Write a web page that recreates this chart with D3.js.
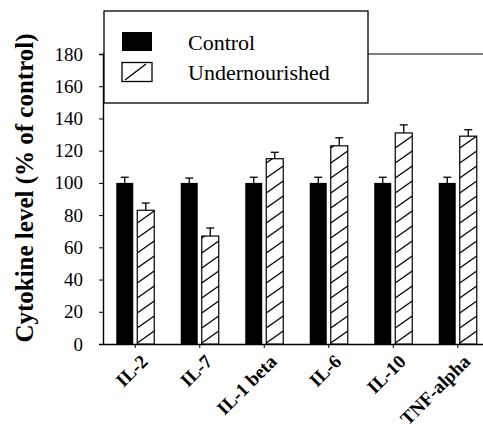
<!DOCTYPE html>
<html>
<head>
<meta charset="utf-8">
<script src="https://cdn.jsdelivr.net/npm/d3@7"></script>
</head>
<body style="margin:0">
<div id="chart"></div>
<script>
// values (% of control)
var categories = ["IL-2", "IL-7", "IL-1 beta", "IL-6", "IL-10", "TNF-alpha"];
var controlValues = [100, 100, 100, 100, 100, 100];
var controlErrors = [3.5, 3, 3.5, 3.5, 3.5, 3.5];
var underValues = [83, 67, 115, 123, 131, 129];
var underErrors = [4.5, 5, 4, 5, 5, 4];
var yTicks = [0, 20, 40, 60, 80, 100, 120, 140, 160, 180];
var seriesNames = ["Control", "Undernourished"];

var width = 483, height = 442;
var serif = "Liberation Serif";

var svg = d3.select("#chart").append("svg")
    .attr("width", width)
    .attr("height", height);

var x = d3.scaleBand().domain(categories).range([103, 490]);
var y = d3.scaleLinear().domain([0, 180]).range([344, 54]);
var barW = 17, gap = 2;

//frame: top line and axes
svg.append("line")
    .attr("x1", x.range()[0]).attr("x2", width)
    .attr("y1", y(180)).attr("y2", y(180))
    .attr("stroke", "#000").attr("stroke-width", 1.2);

var yAxis = svg.append("g")
    .attr("transform", "translate(" + x.range()[0] + ",0)")
    .call(d3.axisLeft(y).tickValues(yTicks).tickSize(4).tickPadding(16));
yAxis.select(".domain").attr("stroke-width", 1.4);
yAxis.selectAll("text")
    .attr("fill", "#000")
    .attr("font-family", serif)
    .attr("font-size", 19);

var xAxis = svg.append("g")
    .attr("transform", "translate(0," + y(0) + ")")
    .call(d3.axisBottom(x).tickSize(4).tickSizeOuter(0));
xAxis.select(".domain").attr("stroke-width", 1.4);
xAxis.selectAll("text")
    .attr("fill", "#000")
    .attr("font-family", serif)
    .attr("font-size", 19)
    .attr("font-weight", "bold")
    .attr("x", 0)
    .attr("y", 0)
    .attr("dy", "0.35em")
    .attr("text-anchor", "end")
    .attr("transform", "translate(9,14) rotate(-45)");

//hatch lines for one bar, cut at the bar top
function hatchLines(x0, w, yTop) {
    var segs = [];
    var y0 = y(0);
    for (var k = 0; ; k++) {
        var ly = y0 - 1 - 15 * k;
        if (ly <= yTop + 1) break;
        var ry = ly - 12, rx = x0 + w;
        if (ry < yTop) {
            rx = x0 + w * (ly - yTop) / 12;
            ry = yTop;
        }
        segs.push([x0, ly, rx, ry]);
    }
    return segs;
}

//bars
var groups = svg.selectAll(".cat")
    .data(categories)
    .enter()
    .append("g")
    .attr("class", "cat");

groups.each(function (c, i) {
    var g = d3.select(this);
    var cx = x(c) + x.bandwidth() / 2;

    var x1 = cx - gap - barW;
    g.append("rect")
        .attr("x", x1).attr("y", y(controlValues[i]))
        .attr("width", barW).attr("height", y(0) - y(controlValues[i]))
        .attr("fill", "#000");
    errBar(g, x1 + barW / 2, controlValues[i], controlErrors[i]);

    var x2 = cx + gap;
    g.append("rect")
        .attr("x", x2).attr("y", y(underValues[i]))
        .attr("width", barW).attr("height", y(0) - y(underValues[i]))
        .attr("fill", "#fff")
        .attr("stroke", "#000").attr("stroke-width", 1.2);
    g.selectAll(".hatch")
        .data(hatchLines(x2, barW, y(underValues[i])))
        .enter()
        .append("line")
        .attr("x1", function (d) { return d[0]; })
        .attr("y1", function (d) { return d[1]; })
        .attr("x2", function (d) { return d[2]; })
        .attr("y2", function (d) { return d[3]; })
        .attr("stroke", "#000").attr("stroke-width", 1.3);
    errBar(g, x2 + barW / 2, underValues[i], underErrors[i]);
});

function errBar(g, xc, v, e) {
    g.append("line")
        .attr("x1", xc).attr("x2", xc)
        .attr("y1", y(v)).attr("y2", y(v + e))
        .attr("stroke", "#000").attr("stroke-width", 1.3);
    g.append("line")
        .attr("x1", xc - 4).attr("x2", xc + 4)
        .attr("y1", y(v + e)).attr("y2", y(v + e))
        .attr("stroke", "#000").attr("stroke-width", 1.3);
}

//legend
var legend = svg.append("g");
legend.append("rect")
    .attr("x", 104).attr("y", 11)
    .attr("width", 264).attr("height", 92)
    .attr("fill", "#fff")
    .attr("stroke", "#000").attr("stroke-width", 1.3);
legend.append("rect")
    .attr("x", 122).attr("y", 32).attr("width", 30).attr("height", 19)
    .attr("fill", "#000");
legend.append("rect")
    .attr("x", 122).attr("y", 62.5).attr("width", 30).attr("height", 19)
    .attr("fill", "#fff").attr("stroke", "#000").attr("stroke-width", 1.3);
legend.append("line")
    .attr("x1", 125).attr("y1", 80).attr("x2", 146).attr("y2", 64)
    .attr("stroke", "#000").attr("stroke-width", 1.3);
legend.selectAll(".ltext")
    .data(seriesNames)
    .enter()
    .append("text")
    .attr("x", 188)
    .attr("y", function (d, i) { return 50 + i * 30; })
    .attr("font-family", serif)
    .attr("font-size", 22)
    .text(function (d) { return d; });

//y axis title
svg.append("text")
    .attr("transform", "translate(33,188) rotate(-90)")
    .attr("text-anchor", "middle")
    .attr("font-family", serif)
    .attr("font-size", 25)
    .attr("font-weight", "bold")
    .text("Cytokine level (% of control)");
</script>
</body>
</html>
